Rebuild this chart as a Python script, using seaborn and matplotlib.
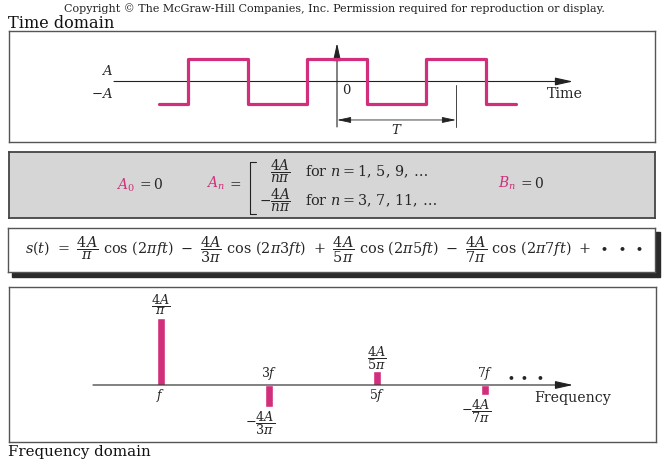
import numpy as np
import pandas as pd
import matplotlib
matplotlib.use('Agg')
import matplotlib.pyplot as plt
import seaborn as sns
from matplotlib.patches import Rectangle
from matplotlib.lines import Line2D

# ==========================================
# Data
# ==========================================
# square wave in units of the period T, amplitude in units of A
wave_t = [-1.5, -1.25, -1.25, -0.75, -0.75, -0.25, -0.25, 0.25, 0.25, 0.75, 0.75, 1.25, 1.25, 1.5]
wave_level = [-1, -1, 1, 1, -1, -1, 1, 1, -1, -1, 1, 1, -1, -1]

# spectrum: harmonic number and amplitude (in units of A)
harmonics = [1, 3, 5, 7]
amplitudes = [1.273, -0.424, 0.255, -0.182]
harmonic_labels = [r'$f$', r'$3f$', r'$5f$', r'$7f$']
amp_labels = [r'$\dfrac{4A}{\pi}$', r'$-\dfrac{4A}{3\pi}$', r'$\dfrac{4A}{5\pi}$', r'$-\dfrac{4A}{7\pi}$']

copyright_text = 'Copyright © The McGraw-Hill Companies, Inc. Permission required for reproduction or display.'
formula_tokens = [r's(t)', r'=', r'\dfrac{4A}{\pi}', r'\cos\,(2\pi ft)',
                  r'-', r'\dfrac{4A}{3\pi}', r'\cos\,(2\pi 3ft)',
                  r'+', r'\dfrac{4A}{5\pi}', r'\cos\,(2\pi 5ft)',
                  r'-', r'\dfrac{4A}{7\pi}', r'\cos\,(2\pi 7ft)',
                  r'+', r'\bullet\hspace{0.35}\bullet\hspace{0.35}\bullet']

PINK = '#d12e7b'
EDGE = '#555555'

sns.set_theme(style='white')
plt.rcParams['font.family'] = ['DejaVu Serif']
plt.rcParams['mathtext.fontset'] = 'dejavuserif'

W, H = 665, 466
fig = plt.figure(figsize=(W / 100, H / 100), dpi=100)


def fx(px):
    return px / W


def fy(py):
    return 1 - py / H


def box_axes(x0, y0, x1, y1, face='white', edge=EDGE, lw=1.0):
    ax = fig.add_axes([x0 / W, 1 - y1 / H, (x1 - x0) / W, (y1 - y0) / H])
    ax.set_facecolor(face)
    ax.set_xticks([]); ax.set_yticks([])
    for s in ax.spines.values():
        s.set_visible(True); s.set_color(edge); s.set_linewidth(lw)
    return ax


fig.text(fx(334), fy(12), copyright_text, ha='center', va='baseline', fontsize=8.0, color='#222222')
fig.text(fx(8), fy(28), 'Time domain', ha='left', va='baseline', fontsize=11.6, color='#111111')

# ==========================================
# Time domain
# ==========================================
ax1 = box_axes(9, 31, 655, 142)
sns.lineplot(x=wave_t, y=wave_level, sort=False, estimator=None, color=PINK, lw=2.3, ax=ax1)
ax1.set_xlim((9 - 337) / 119, (655 - 337) / 119)
ax1.set_ylim((81.5 - 142) / 22.5, (81.5 - 31) / 22.5)
ax1.set_xticks([]); ax1.set_yticks([])
ax1.set(xlabel='', ylabel='')

arrow_kw = dict(arrowstyle='-|>,head_length=0.9,head_width=0.2', color='#222222', lw=0.8, shrinkA=0, shrinkB=0)
ax1.annotate('', xy=(1.983, 0), xytext=(-1.874, 0), arrowprops=arrow_kw, zorder=1)
ax1.annotate('', xy=(0, 1.71), xytext=(0, -2.02), arrowprops=arrow_kw, zorder=1)
ax1.plot([1, 1], [-0.16, -2.02], color='#444444', lw=0.7)
ax1.annotate('', xy=(1, -1.71), xytext=(0, -1.71),
             arrowprops=dict(arrowstyle='<|-|>,head_length=0.7,head_width=0.15', color='#222222',
                             lw=0.6, shrinkA=0, shrinkB=0))
ax1.text(0.5, -2.16, r'$T$', ha='center', va='center', fontsize=9.5)
ax1.text(0.076, -0.42, '0', ha='center', va='center', fontsize=9.5)
ax1.text(-1.88, 0.47, r'$A$', ha='right', va='center', fontsize=9.5)
ax1.text(-1.88, -0.55, r'$-A$', ha='right', va='center', fontsize=9.5)
ax1.text(1.765, -0.73, 'Time', ha='left', va='baseline', fontsize=10.4)

# ==========================================
# Fourier coefficients
# ==========================================
ax2 = box_axes(9, 152, 655, 218, face='#d6d6d6', edge='#444444', lw=1.3)
fig.text(fx(135), fy(185), r'$A_0$', ha='right', va='center', fontsize=10, color=PINK)
fig.text(fx(137), fy(185), r'$=0$', ha='left', va='center', fontsize=10)
fig.text(fx(225), fy(183), r'$A_n$', ha='right', va='center', fontsize=10, color=PINK)
fig.text(fx(227), fy(183), r'$=$', ha='left', va='center', fontsize=10)
for seg in [([250, 250], [162, 214]), ([250, 256], [162, 162]), ([250, 256], [214, 214])]:
    fig.add_artist(Line2D([fx(v) for v in seg[0]], [fy(v) for v in seg[1]], color='#222222', lw=0.8))
fig.text(fx(291), fy(171), r'$\dfrac{4A}{n\pi}$', ha='right', va='center', fontsize=9.8)
fig.text(fx(291), fy(200), r'$-\dfrac{4A}{n\pi}$', ha='right', va='center', fontsize=9.8)
fig.text(fx(305), fy(172), r'for $n=1,\,5,\,9,\,\ldots$', ha='left', va='center', fontsize=10.4)
fig.text(fx(305), fy(201), r'for $n=3,\,7,\,11,\,\ldots$', ha='left', va='center', fontsize=10.4)
fig.text(fx(516), fy(183), r'$B_n$', ha='right', va='center', fontsize=10, color=PINK)
fig.text(fx(518), fy(183), r'$=0$', ha='left', va='center', fontsize=10)

# ==========================================
# Series expansion
# ==========================================
fig.add_artist(Rectangle((fx(12), fy(277)), (660 - 12) / W, (277 - 232) / H,
                         transform=fig.transFigure, color='#2a2a2a', zorder=-1))
ax3 = box_axes(8, 228, 655, 272)


def formula(gap):
    sp = r'\hspace{%.3f}' % gap
    return '$' + sp.join(formula_tokens) + '$'


ft = fig.text(fx(25), fy(250), formula(0), ha='left', va='center', fontsize=10.4)
renderer = fig.canvas.get_renderer()
w0 = ft.get_window_extent(renderer).width
ft.set_text(formula(1))
w1 = ft.get_window_extent(renderer).width
gap = max(0.0, (643 - 25 - w0) / (w1 - w0))
ft.set_text(formula(gap))

# ==========================================
# Frequency domain
# ==========================================
ax4 = box_axes(9, 287, 656, 442)
sns.barplot(x=harmonics, y=amplitudes, native_scale=True, width=0.078, color=PINK,
            saturation=1, errorbar=None, ax=ax4)
ax4.set_xlim((9 - 161) / 54 + 1, (656 - 161) / 54 + 1)
ax4.set_ylim((385 - 442) / 53, (385 - 287) / 53)
ax4.set_xticks([]); ax4.set_yticks([])
ax4.set(xlabel='', ylabel='')
ax4.annotate('', xy=(8.63, 0), xytext=(-0.26, 0), arrowprops=arrow_kw, zorder=1)

for n, v, hl, al in zip(harmonics, amplitudes, harmonic_labels, amp_labels):
    if v > 0:
        ax4.text(n, -0.19, hl, ha='center', va='center', fontsize=9)
        ax4.text(n, v + 0.25, al, ha='center', va='center', fontsize=9.2)
    else:
        ax4.text(n, 0.21, hl, ha='center', va='center', fontsize=9)
        ax4.text(n - 0.17, v - 0.3, al, ha='center', va='center', fontsize=9.2)
ax4.text(7.74, 0.16, r'$\bullet\hspace{0.3}\bullet\hspace{0.3}\bullet$', ha='center', va='center', fontsize=10)
ax4.text(7.91, -0.32, 'Frequency', ha='left', va='baseline', fontsize=10.2)

fig.text(fx(8), fy(456), 'Frequency domain', ha='left', va='baseline', fontsize=10.8, color='#111111')

fig.savefig('out.png', dpi=100)
